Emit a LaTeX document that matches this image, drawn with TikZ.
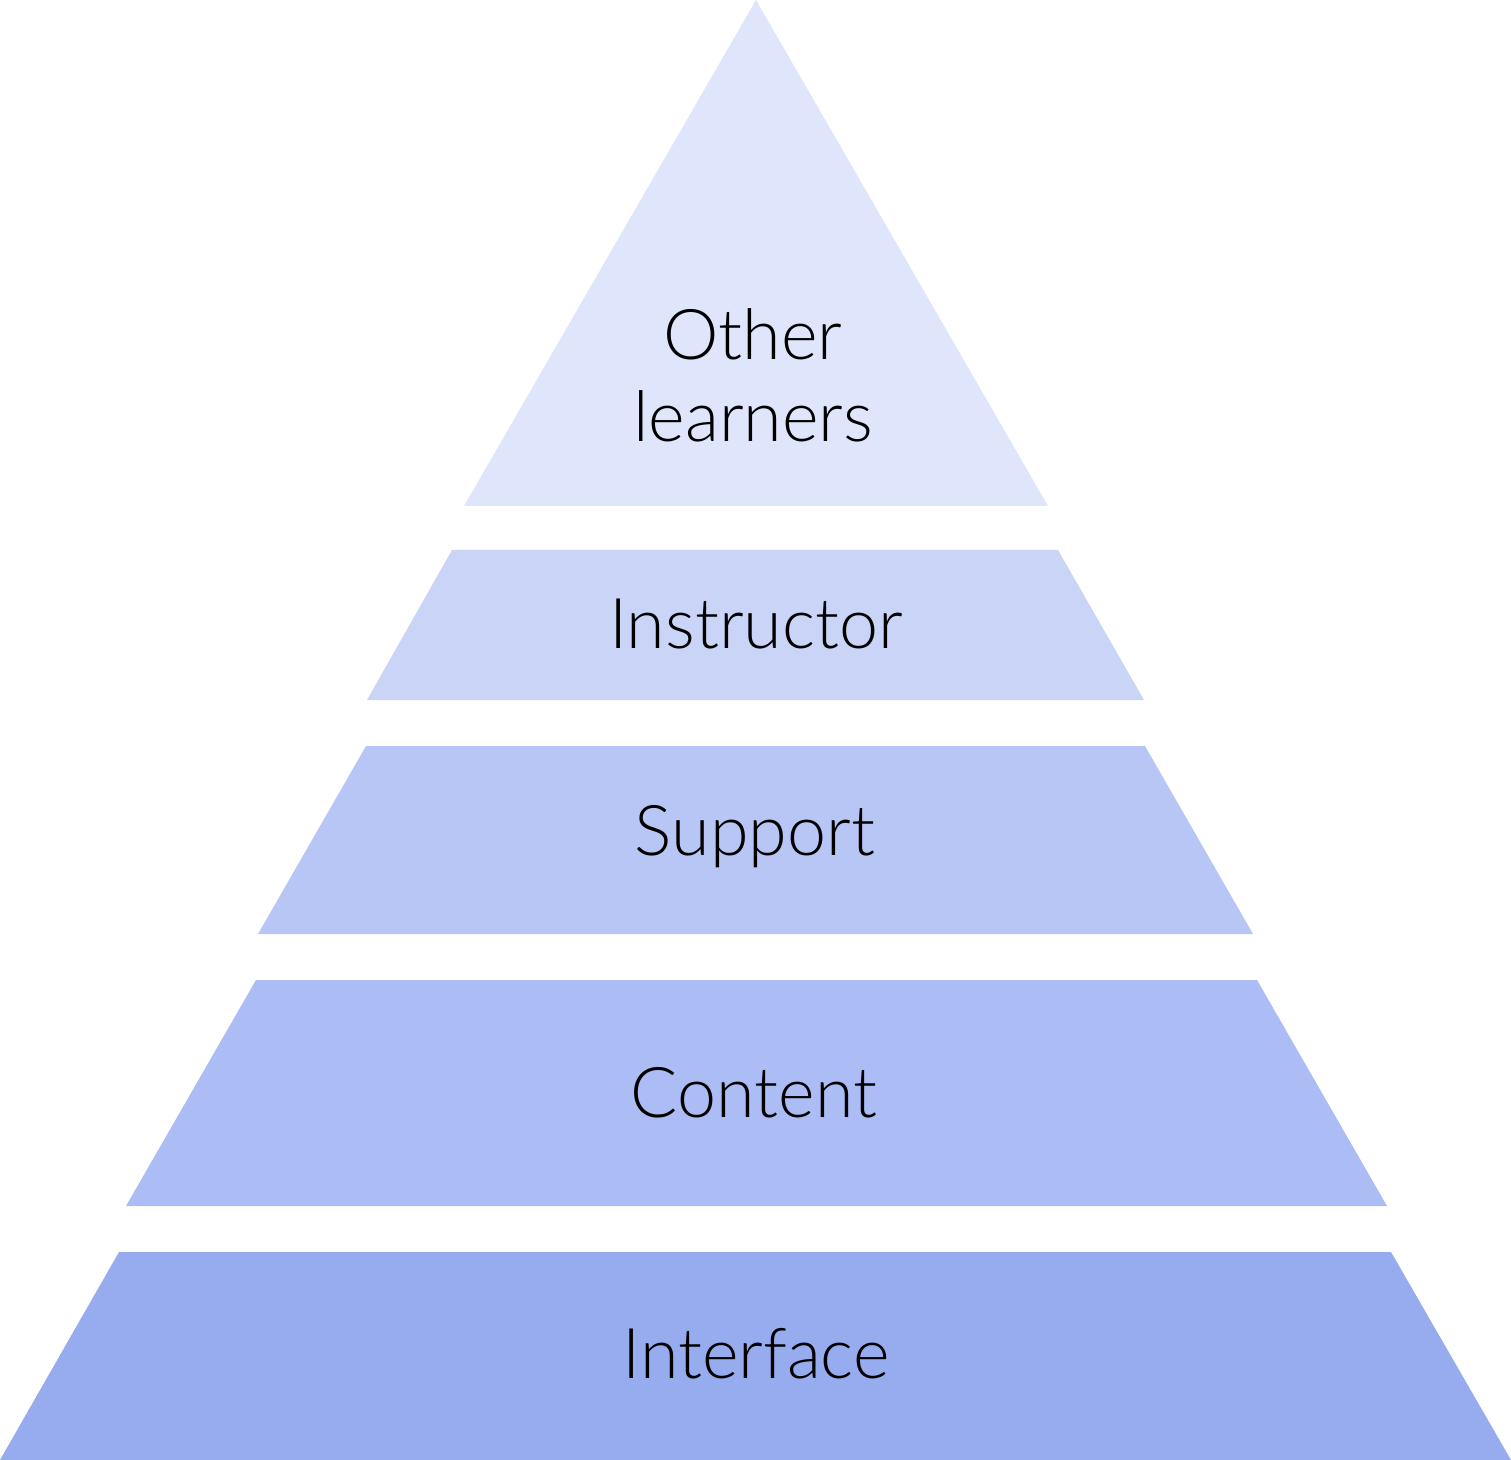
\documentclass[tikz,border=0pt]{standalone}
\usepackage{fontspec}
\setmainfont{Lato Light}
\definecolor{cA}{HTML}{DFE5FA}
\definecolor{cB}{HTML}{CAD4F6}
\definecolor{cC}{HTML}{B8C6F5}
\definecolor{cD}{HTML}{ACBCF4}
\definecolor{cE}{HTML}{97ABEF}
\begin{document}
\begin{tikzpicture}[x=0.5pt,y=-0.5pt,
  layer/.style={inner sep=0pt},
  lbl/.style={font=\fontsize{35}{41}\selectfont, text=black, inner sep=0pt, anchor=base, align=center}]
\useasboundingbox (0,0) rectangle (1511,1460);
\fill[cA] (756,0) -- (1048,506) -- (464,506) -- cycle;
\fill[cB] (452,550) -- (1058,550) -- (1144,700) -- (367,700) -- cycle;
\fill[cC] (366,746) -- (1145,746) -- (1253,934) -- (258,934) -- cycle;
\fill[cD] (256,980) -- (1257,980) -- (1387,1206) -- (126,1206) -- cycle;
\fill[cE] (119,1252) -- (1391,1252) -- (1511,1460) -- (0,1460) -- cycle;
\node[lbl] (other) at (753,360) {Other};
\node[lbl] (learners) at (753,442) {learners};
\node[lbl] (instr) at (756,648) {Instructor};
\node[lbl] (support) at (755,855) {Support};
\node[lbl] (content) at (754,1117) {Content};
\node[lbl] (interface) at (756,1378) {Interface};
\end{tikzpicture}
\end{document}
